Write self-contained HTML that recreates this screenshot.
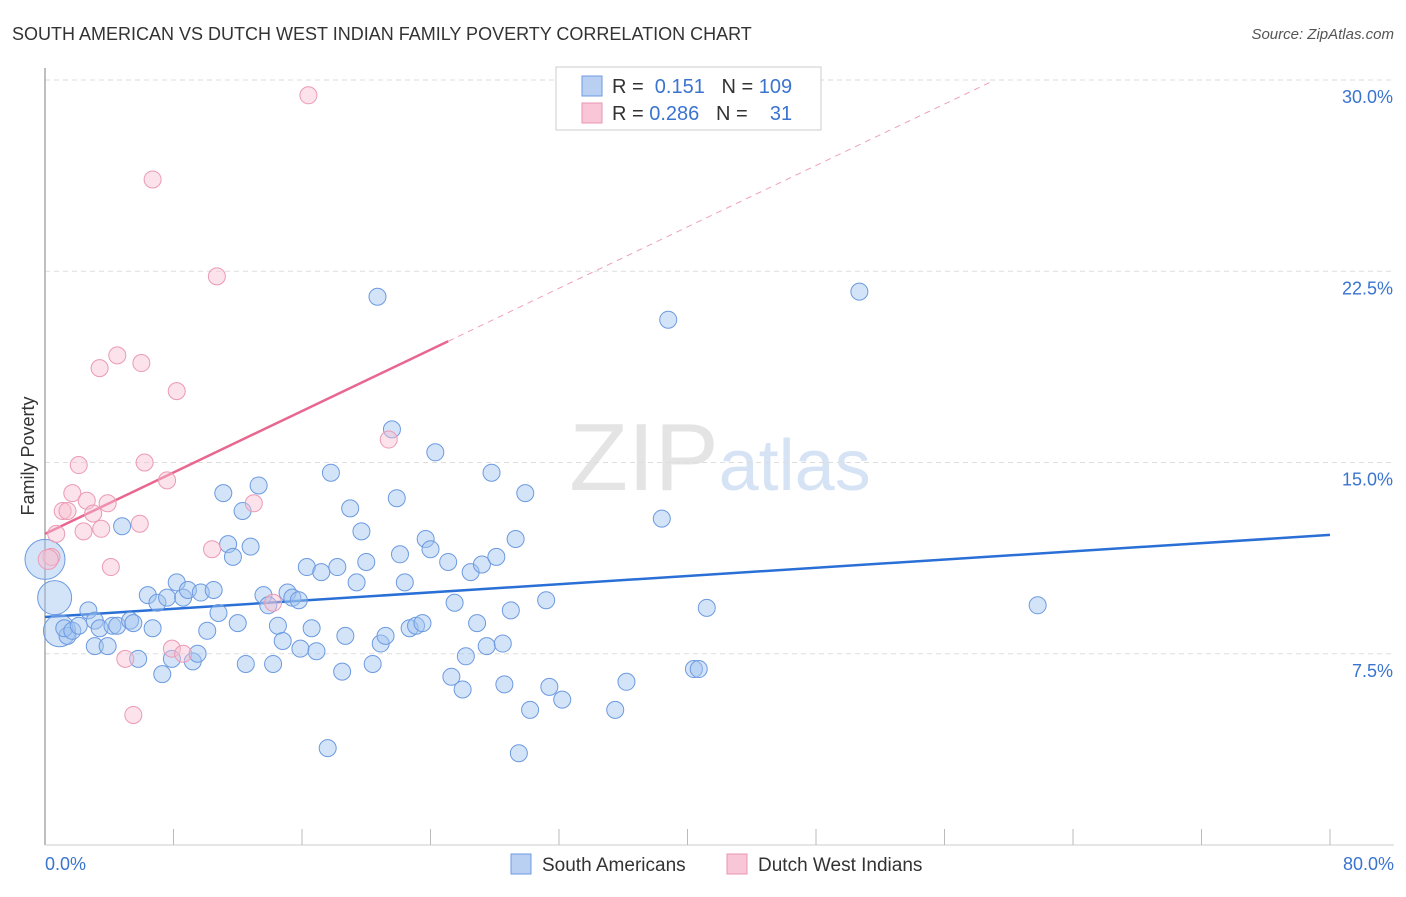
<!DOCTYPE html>
<html><head><meta charset="utf-8"><style>
body{margin:0;background:#fff;font-family:"Liberation Sans",sans-serif;}
svg text{font-family:"Liberation Sans",sans-serif;}
</style></head><body>
<svg id="chart" width="1406" height="892" xmlns="http://www.w3.org/2000/svg">
<text x="12" y="40" font-size="18" fill="#333">SOUTH AMERICAN VS DUTCH WEST INDIAN FAMILY POVERTY CORRELATION CHART</text>
<text x="1394" y="39" font-size="15" fill="#555" text-anchor="end" font-style="italic">Source: ZipAtlas.com</text>
<text x="720" y="490" font-size="96" fill="#e4e4e4" text-anchor="middle" font-family="Liberation Serif">ZIP<tspan fill="#d6e3f5" font-family="Liberation Sans" font-size="72">atlas</tspan></text>
<g id="grid"></g>
<line x1="45" y1="68" x2="45" y2="845" stroke="#aaa" stroke-width="1.5"/>
<line x1="45" y1="845" x2="1394" y2="845" stroke="#ccc" stroke-width="1"/>
<text transform="translate(34,456) rotate(-90)" font-size="18" fill="#333" text-anchor="middle">Family Poverty</text>
<text x="45" y="870" font-size="18" fill="#3a74d0">0.0%</text>
<text x="1394" y="870" font-size="18" fill="#3a74d0" text-anchor="end">80.0%</text>
<g id="ticks"></g>
<g id="trend"></g>
<g id="pts"></g>
<g>
<rect x="556" y="67" width="265" height="63" fill="#fff" stroke="#ccc"/>
<rect x="582" y="76" width="20" height="20" fill="#b9d0f3" stroke="#6c9ae0"/>
<rect x="582" y="103" width="20" height="20" fill="#f8c6d6" stroke="#e894b0"/>
<text x="612" y="93" font-size="20" fill="#333">R = <tspan fill="#3a74d0">&#160;0.151</tspan>&#160;&#160;&#160;N = <tspan fill="#3a74d0">109</tspan></text>
<text x="612" y="120" font-size="20" fill="#333">R = <tspan fill="#3a74d0">0.286</tspan>&#160;&#160;&#160;N = <tspan fill="#3a74d0">&#160;&#160;&#160;31</tspan></text>
</g>
<g>
<rect x="511" y="854" width="20" height="20" fill="#b9d0f3" stroke="#6c9ae0"/>
<text x="542" y="871" font-size="19" fill="#333">South Americans</text>
<rect x="727" y="854" width="20" height="20" fill="#f8c6d6" stroke="#e894b0"/>
<text x="758" y="871" font-size="19" fill="#333">Dutch West Indians</text>
</g>
</svg>
<script>
const yTicks=[7.5,15,22.5,30];
const yTickLabels=["7.5%","15.0%","22.5%","30.0%"];
const blueX=[0.0,0.6,0.9,1.4,1.2,1.7,2.7,2.1,3.1,3.1,3.4,3.9,4.2,4.5,4.8,5.3,5.5,5.8,6.4,6.7,7.0,7.3,7.6,7.9,8.2,8.6,8.9,9.2,9.5,9.7,10.1,10.5,10.8,11.1,11.4,11.7,12.0,12.3,12.5,12.8,13.3,13.6,13.9,14.2,14.5,14.8,15.1,15.4,15.8,15.9,16.3,16.6,16.9,17.2,17.6,17.8,18.2,18.5,18.7,19.0,19.4,19.7,20.0,20.4,20.7,20.9,21.2,21.6,21.9,22.1,22.4,22.7,23.1,23.5,23.7,24.0,24.3,25.1,25.3,25.5,26.0,26.2,26.5,26.9,27.2,27.5,27.8,28.1,28.5,28.6,29.0,29.3,29.5,29.9,30.2,31.2,31.4,32.2,35.5,36.2,38.4,38.8,40.4,40.7,41.2,50.7,61.8];
const blueY=[11.2,9.7,8.4,8.2,8.5,8.4,9.2,8.6,8.8,7.8,8.5,7.8,8.6,8.6,12.5,8.8,8.7,7.3,9.8,8.5,9.5,6.7,9.7,7.3,10.3,9.7,10.0,7.2,7.5,9.9,8.4,10.0,9.1,13.8,11.8,11.3,8.7,13.1,7.1,11.7,14.1,9.8,9.4,7.1,8.6,8.0,9.9,9.7,9.6,7.7,10.9,8.5,7.6,10.7,3.8,14.6,10.9,6.8,8.2,13.2,10.3,12.3,11.1,7.1,21.5,7.9,8.2,16.3,13.6,11.4,10.3,8.5,8.6,8.7,12.0,11.6,15.4,11.1,6.6,9.5,6.1,7.4,10.7,8.7,11.0,7.8,14.6,11.3,7.9,6.3,9.2,12.0,3.6,13.8,5.3,9.6,6.2,5.7,5.3,6.4,12.8,20.6,6.9,6.9,9.3,21.7,9.4];
const blueBig=[20,17,16];
const pinkX=[16.4,6.7,10.7,4.5,3.4,6.0,8.2,21.4,6.2,2.1,7.6,1.7,2.6,3.9,1.1,1.4,3.0,13.0,5.9,3.5,2.4,0.7,10.4,0.4,4.1,7.9,8.6,5.0,14.2,5.5,0.2];
const pinkY=[29.4,26.1,22.3,19.2,18.7,18.9,17.8,15.9,15.0,14.9,14.3,13.8,13.5,13.4,13.1,13.1,13.0,13.4,12.6,12.4,12.3,12.2,11.6,11.3,10.9,7.7,7.5,7.3,9.5,5.1,11.2];
const blueTrend=[8.94,12.16];
const pinkTrend=[12.2,0.301];
const pinkSolidEnd=25.1, pinkDashEnd=59.1;
const NS="http://www.w3.org/2000/svg";
const X=v=>45+v*1285/80, Y=v=>845-v*25.5;
function mk(t,a,p){const e=document.createElementNS(NS,t);for(const k in a)e.setAttribute(k,a[k]);p.appendChild(e);return e;}
const grid=document.getElementById('grid');
yTicks.forEach((t,i)=>{
 const l=mk('line',{x1:45,x2:1394,y1:Y(t),y2:Y(t),stroke:'#ddd','stroke-dasharray':'5,4'},grid);
 
 
 const tx=mk('text',{x:1393,y:Y(t)+23,'font-size':18,fill:'#3a74d0','text-anchor':'end'},grid);
 tx.textContent=yTickLabels[i];
 
 
});
const ticks=document.getElementById('ticks');
for(let k=1;k<=10;k++){const l=mk('line',{x1:X(k*8),x2:X(k*8),y1:845,y2:829,stroke:'#bbb'},ticks);
 
 }
const pts=document.getElementById('pts');
blueX.forEach((x,i)=>{const c=mk('circle',{cx:X(x),cy:Y(blueY[i]),r:i<blueBig.length?blueBig[i]:8.5,fill:'rgba(160,195,240,0.45)',stroke:'#6c9ae0','stroke-width':1},pts);
 
 });
pinkX.forEach((x,i)=>{const c=mk('circle',{cx:X(x),cy:Y(pinkY[i]),r:i==pinkX.length-1?10:8.5,fill:'rgba(248,190,208,0.45)',stroke:'#eb9ab5','stroke-width':1},pts);
 
 });
const tr=document.getElementById('trend');
const b=mk('line',{x1:X(0),y1:Y(blueTrend[0]),x2:X(80),y2:Y(blueTrend[1]),stroke:'#2a6fd6','stroke-width':2.5},tr);


const pf=x=>pinkTrend[0]+pinkTrend[1]*x;
const p1=mk('line',{x1:X(0),y1:Y(pf(0)),x2:X(pinkSolidEnd),y2:Y(pf(pinkSolidEnd)),stroke:'#e8668f','stroke-width':2.5},tr);


const p2=mk('line',{x1:X(pinkSolidEnd),y1:Y(pf(pinkSolidEnd)),x2:X(pinkDashEnd),y2:Y(pf(pinkDashEnd)),stroke:'#efa0b8','stroke-width':1,'stroke-dasharray':'6,5'},tr);


</script>
</body></html>
